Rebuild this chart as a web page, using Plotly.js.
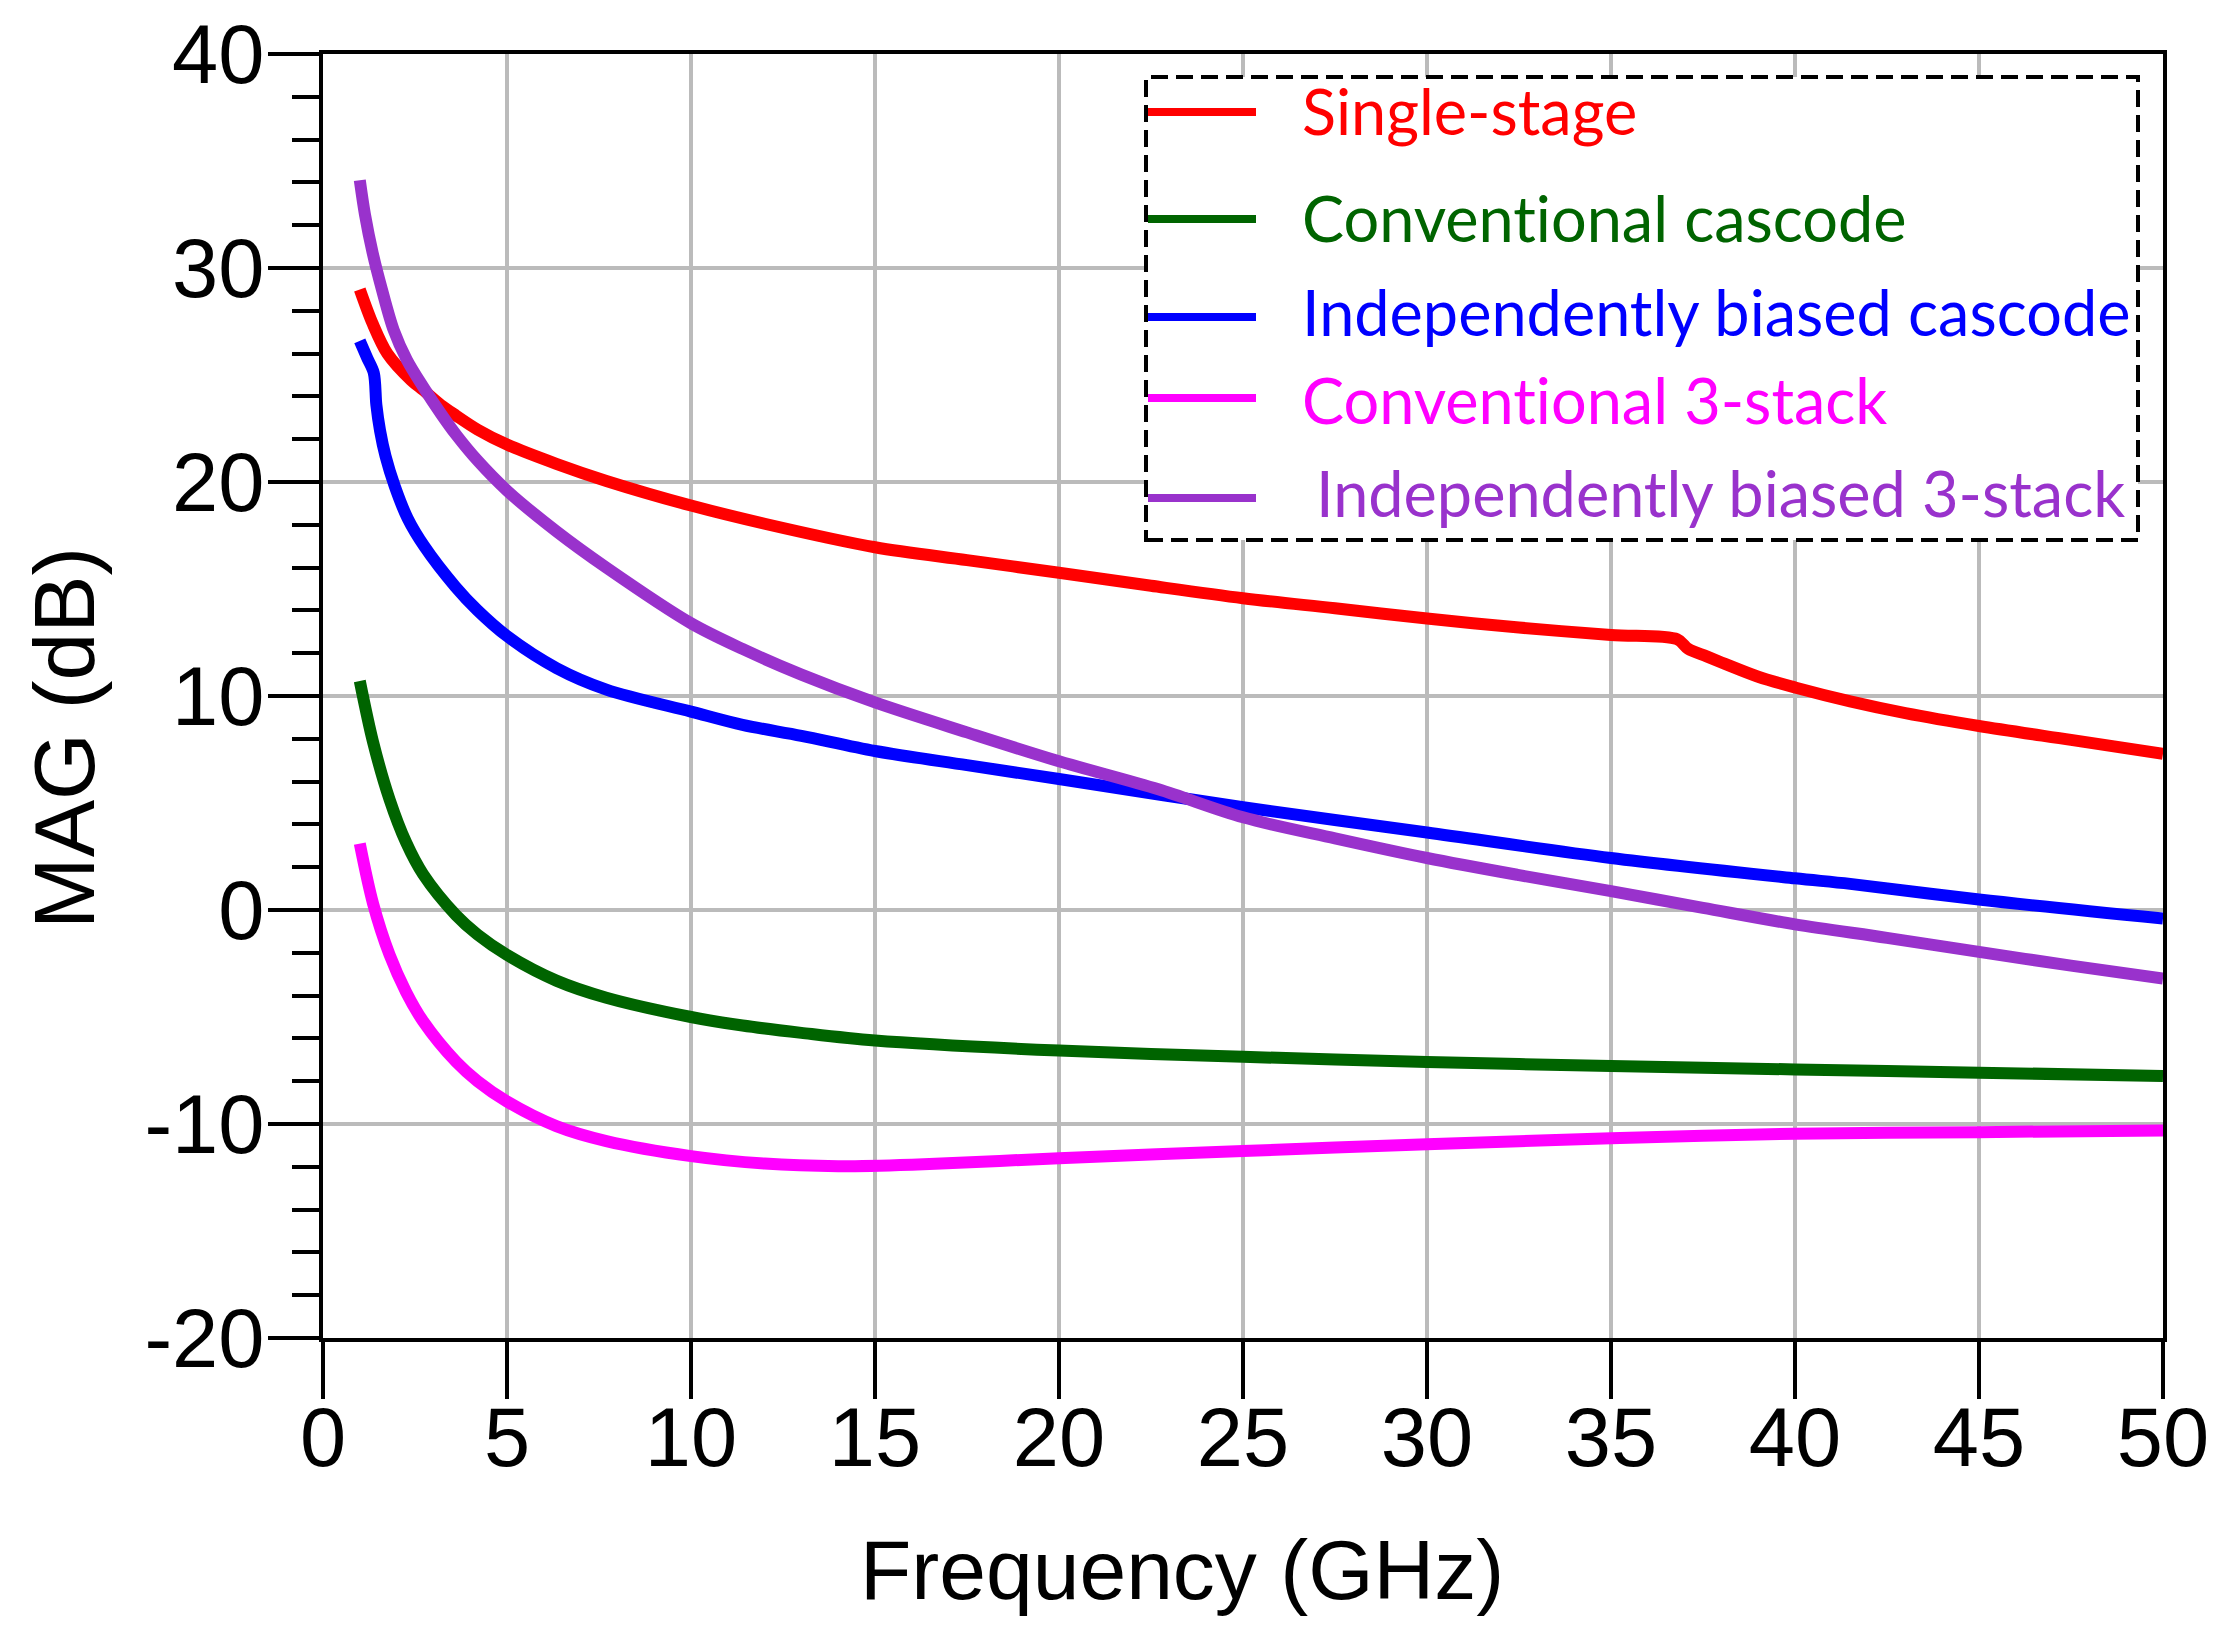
<!DOCTYPE html>
<html>
<head>
<meta charset="utf-8">
<script src="https://cdn.plot.ly/plotly-3.0.1.min.js"></script>
<style>
  body { margin: 0; background: #fff; }
  #chart { width: 2225px; height: 1647px; }
  svg text { font-variant-ligatures: none !important; font-feature-settings: "liga" 0, "dlig" 0 !important; }
</style>
</head>
<body>
<div id="chart"></div>
<script>
// MAG vs frequency

var seriesNames = ['Single-stage', 'Conventional cascode', 'Independently biased cascode',
                   'Conventional 3-stack', 'Independently biased 3-stack'];
var seriesColors = ['#ff0000', '#006400', '#0000ff', '#ff00ff', '#9932cc'];

// Single-stage
var freqSingle = [1, 1.35, 1.75, 2.4, 2.72, 3.2, 3.62, 4.2, 5, 6.34, 7.7, 10, 12, 15, 17.5, 20, 22.5, 25,
                  27.5, 30, 32.5, 35, 36.8, 37.1, 37.6, 38.1, 39, 40, 41.5, 43, 45, 47.5, 50];
var magSingle = [29.0, 27.4, 26.0, 24.75, 24.3, 23.6, 23.1, 22.45, 21.75, 20.85, 20.05, 18.9, 18.05, 16.95, 16.35, 15.76, 15.15, 14.57,
                 14.1, 13.62, 13.2, 12.85, 12.65, 12.2, 11.85, 11.5, 10.9, 10.4, 9.75, 9.2, 8.6, 7.95, 7.3];

// Conventional cascode
var freqCasc = [1, 1.36, 1.81, 2.26, 2.72, 3.62, 4.2, 5, 6.34, 7.7, 10, 11.4, 13, 15, 20, 25, 30, 35, 40, 45, 50];
var magCasc = [10.7, 7.85, 5.16, 3.15, 1.67, -0.25, -1.15, -2.1, -3.3, -4.1, -5.0, -5.4, -5.74, -6.1, -6.57,
               -6.86, -7.1, -7.29, -7.45, -7.6, -7.76];

// Independently biased cascode
var freqIbCasc = [1, 1.2, 1.38, 1.45, 1.55, 1.7, 1.95, 2.3, 2.75, 3.6, 4.2, 5, 6.35, 7.7, 10, 11.4, 13, 15,
                  17.5, 20, 25, 30, 35, 40, 41.5, 45, 50];
var magIbCasc = [26.6, 25.8, 25.1, 23.6, 22.4, 21.2, 19.8, 18.3, 17.0, 15.1, 14.0, 12.8, 11.3, 10.3, 9.27,
                 8.65, 8.14, 7.43, 6.77, 6.12, 4.8, 3.62, 2.43, 1.48, 1.22, 0.49, -0.4];

// Conventional 3-stack
var freqStack = [1, 1.36, 1.81, 2.26, 2.72, 3.62, 4.2, 5, 6.34, 7.7, 10, 12, 14, 16, 20, 25, 30, 35, 40, 45, 50];
var magStack = [3.1, 0.3, -2.1, -3.84, -5.2, -7.1, -8.0, -8.95, -10.1, -10.8, -11.5, -11.85, -11.97,
                -11.9, -11.6, -11.26, -10.95, -10.67, -10.45, -10.38, -10.3];

// Independently biased 3-stack
var freqIbStack = [1, 1.14, 1.35, 1.6, 1.92, 2.28, 2.72, 3.2, 3.62, 4.2, 5, 6.34, 7.7, 10, 11.4, 13, 15, 17.5,
                   20, 22.7, 25, 27.5, 30, 32.5, 35, 37.5, 40, 42.5, 45, 47.5, 50];
var magIbStack = [34.1, 32.5, 30.7, 29.0, 27.1, 25.7, 24.45, 23.2, 22.2, 21.0, 19.6, 17.7, 16.0, 13.4,
                  12.2, 11.0, 9.7, 8.3, 6.95, 5.64, 4.33, 3.35, 2.43, 1.63, 0.88, 0.1, -0.67, -1.3, -1.96, -2.6, -3.2];

var yTickVals = [-20, -10, 0, 10, 20, 30, 40];
var yTickText = ['-20', '-10', '0', '10', '20', '30', '40'];

var xTitle = 'Frequency (GHz)';
var yTitle = 'MAG (dB)';

var allX = [freqSingle, freqCasc, freqIbCasc, freqStack, freqIbStack];
var allY = [magSingle, magCasc, magIbCasc, magStack, magIbStack];

// page geometry (px)
var W = 2225, H = 1647;
var L = 323, R = 62, T = 54, B = 309;
var PW = W - L - R, PH = H - T - B;
function px(x) { return (x - L) / PW; }
function py(y) { return (H - B - y) / PH; }

var data = [];
for (var i = 0; i < allX.length; i++) {
  data.push({
    x: allX[i],
    y: allY[i],
    name: seriesNames[i],
    type: 'scatter',
    mode: 'lines',
    line: { color: seriesColors[i], width: 12, shape: 'spline', smoothing: 0.9 },
    showlegend: false
  });
}

// hand-made legend, rows are not evenly spaced in the original
var legendLineY = [112, 219, 317, 398, 498];
var legendTextY = [134, 240, 335, 422, 515];

var shapes = [{
  type: 'rect', xref: 'paper', yref: 'paper',
  x0: px(1146), x1: px(2138), y0: py(540), y1: py(77),
  line: { color: 'black', width: 4, dash: '17px,8px' },
  fillcolor: 'white', layer: 'above'
}];
var annotations = [];
for (var j = 0; j < seriesNames.length; j++) {
  shapes.push({
    type: 'line', xref: 'paper', yref: 'paper',
    x0: px(1148), x1: px(1256), y0: py(legendLineY[j]), y1: py(legendLineY[j]),
    line: { color: seriesColors[j], width: 8 }, layer: 'above'
  });
  annotations.push({
    xref: 'paper', yref: 'paper', x: px(j == 4 ? 1314 : 1300), y: py(legendTextY[j] - 23),
    xanchor: 'left', yanchor: 'middle', showarrow: false,
    text: seriesNames[j],
    font: { family: 'Lato, sans-serif', size: 63, color: seriesColors[j] }
  });
}

annotations.push({
  xref: 'paper', yref: 'paper', x: px(1182), y: py(1570),
  xanchor: 'center', yanchor: 'middle', showarrow: false,
  text: xTitle, font: { family: 'Liberation Sans, Arial, sans-serif', size: 84, color: 'black' }
});
annotations.push({
  xref: 'paper', yref: 'paper', x: px(64), y: py(738),
  xanchor: 'center', yanchor: 'middle', showarrow: false, textangle: -90,
  text: yTitle, font: { family: 'Liberation Sans, Arial, sans-serif', size: 86, color: 'black' }
});

var tickFont = { family: 'Liberation Sans, Arial, sans-serif', size: 83, color: 'black' };

var layout = {
  width: W, height: H,
  margin: { l: L, r: R, t: T, b: B, pad: 0 },
  paper_bgcolor: 'white',
  plot_bgcolor: 'white',
  showlegend: false,
  xaxis: {
    range: [0, 50], dtick: 5, tick0: 0,
    showline: true, linecolor: 'black', linewidth: 4, mirror: true,
    showgrid: true, gridcolor: '#bbbbbb', gridwidth: 4,
    zeroline: false,
    ticks: 'outside', ticklen: 57, tickwidth: 4, tickcolor: 'black',
    ticklabelstandoff: -33,
    tickfont: tickFont
  },
  yaxis: {
    range: [-20, 40],
    tickmode: 'array', tickvals: yTickVals, ticktext: yTickText,
    showline: true, linecolor: 'black', linewidth: 4, mirror: true,
    showgrid: true, gridcolor: '#bbbbbb', gridwidth: 4,
    zeroline: false,
    ticks: 'outside', ticklen: 51, tickwidth: 4, tickcolor: 'black',
    ticklabelstandoff: -13,
    minor: { dtick: 2, tick0: 0, ticks: 'outside', ticklen: 27, tickwidth: 4, tickcolor: 'black', showgrid: false },
    tickfont: tickFont
  },
  shapes: shapes,
  annotations: annotations
};

Plotly.newPlot('chart', data, layout, { staticPlot: true });
</script>
</body>
</html>
